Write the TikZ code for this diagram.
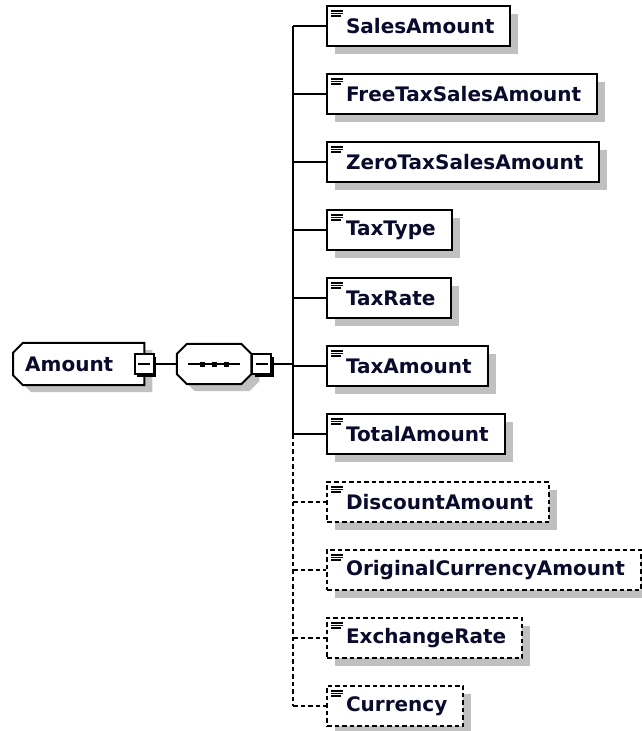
\documentclass[tikz,border=0pt]{standalone}
\usepackage{fontspec}
\newfontfamily\xsdfont{DejaVu Sans}
\usepackage{tikz}
\usetikzlibrary{shadows,positioning,calc,backgrounds}

\definecolor{elemtext}{RGB}{10,10,45}
\definecolor{shadowgrey}{RGB}{192,192,192}

\tikzset{
  boxtext/.style={font=\xsdfont\bfseries\fontsize{20}{23}\selectfont, text=elemtext},
  elem/.style={boxtext, draw, fill=white, line width=2pt, anchor=west,
    minimum height=40pt, inner xsep=16pt, execute at begin node={\hspace*{3pt}},
    general shadow={fill=shadowgrey, shadow xshift=8pt, shadow yshift=-8pt},
    path picture={\draw[solid, line width=1.2pt]
      ([shift={(4,5)}]path picture bounding box.north west) -- ++(12,0)
      ([shift={(4,7.5)}]path picture bounding box.north west) -- ++(12,0)
      ([shift={(4,10)}]path picture bounding box.north west) -- ++(10,0);}},
  optelem/.style={elem, dash pattern=on 4.5pt off 3pt},
  link/.style={line width=2pt},
  optlink/.style={link, dash pattern=on 4.5pt off 3pt},
  collapse/.style={draw, fill=white, line width=2pt, minimum width=19pt,
    minimum height=20pt, inner sep=0pt,
    general shadow={fill=black, shadow xshift=2.5pt, shadow yshift=-2.5pt},
    path picture={\draw[line width=1.5pt]
      ([xshift=-6pt]path picture bounding box.center) -- ([xshift=6pt]path picture bounding box.center);}},
  seqbox/.style={minimum width=74pt, minimum height=40pt, inner sep=0pt, anchor=west}
}

\begin{document}
\begin{tikzpicture}[x=1pt,y=-1pt]
 \useasboundingbox (0,0) rectangle (641,731);

 % root element and sequence
 \node[boxtext, anchor=west, text width=107pt, align=left, inner xsep=12pt, minimum height=42pt] (amount) at (13,364) {Amount};
 \node[collapse] (amountminus) at (amount.east) {};
 \node[seqbox, right=22pt of amountminus] (seq) {};
 \node[collapse, anchor=west] (seqminus) at (seq.east) {};

 % child elements
 \node[elem] (sales) at (326,26) {SalesAmount};
 \node[elem, below=26pt of sales.south west, anchor=north west] (freetax) {FreeTaxSalesAmount};
 \node[elem, below=26pt of freetax.south west, anchor=north west] (zerotax) {ZeroTaxSalesAmount};
 \node[elem, below=26pt of zerotax.south west, anchor=north west] (taxtype) {TaxType};
 \node[elem, below=26pt of taxtype.south west, anchor=north west] (taxrate) {TaxRate};
 \node[elem, below=26pt of taxrate.south west, anchor=north west] (taxamount) {TaxAmount};
 \node[elem, below=26pt of taxamount.south west, anchor=north west] (total) {TotalAmount};
 \node[optelem, below=26pt of total.south west, anchor=north west] (discount) {DiscountAmount};
 \node[optelem, below=26pt of discount.south west, anchor=north west] (origcur) {OriginalCurrencyAmount};
 \node[optelem, below=26pt of origcur.south west, anchor=north west] (exrate) {ExchangeRate};
 \node[optelem, below=26pt of exrate.south west, anchor=north west] (currency) {Currency};

 % outlines and shadows of root and sequence
 \begin{scope}[on background layer]
  \fill[shadowgrey, transform canvas={xshift=8pt,yshift=-7pt}]
   ($(amount.north west)+(10,0)$) -- (amount.north east) -- (amount.south east)
   -- ($(amount.south west)+(10,0)$) -- ($(amount.south west)+(0,-10)$) -- ($(amount.north west)+(0,10)$) -- cycle;
  \draw[fill=white, line width=2pt]
   ($(amount.north west)+(10,0)$) -- (amount.north east) -- (amount.south east)
   -- ($(amount.south west)+(10,0)$) -- ($(amount.south west)+(0,-10)$) -- ($(amount.north west)+(0,10)$) -- cycle;
  \fill[shadowgrey, transform canvas={xshift=8pt,yshift=-7pt}]
   ($(seq.north west)+(10,0)$) -- ($(seq.north east)+(-10,0)$) -- ($(seq.north east)+(0,10)$)
   -- ($(seq.south east)+(0,-10)$) -- ($(seq.south east)+(-10,0)$) -- ($(seq.south west)+(10,0)$)
   -- ($(seq.south west)+(0,-10)$) -- ($(seq.north west)+(0,10)$) -- cycle;
  \draw[fill=white, line width=2pt]
   ($(seq.north west)+(10,0)$) -- ($(seq.north east)+(-10,0)$) -- ($(seq.north east)+(0,10)$)
   -- ($(seq.south east)+(0,-10)$) -- ($(seq.south east)+(-10,0)$) -- ($(seq.south west)+(10,0)$)
   -- ($(seq.south west)+(0,-10)$) -- ($(seq.north west)+(0,10)$) -- cycle;
 \end{scope}

 % sequence glyph
 \draw[line width=1.6pt] ([xshift=-26pt]seq.center) -- ([xshift=26pt]seq.center);
 \foreach \dx in {-12,0,12}
  \fill ([xshift=\dx pt]seq.center) +(-2.5,-2.5) rectangle +(2.5,2.5);

 % connectors
 \coordinate (fork) at ([xshift=-33pt]sales.west |- seqminus.east);
 \draw[link] (amountminus) -- (seq);
 \draw[link] (seqminus) -- (fork);
 \draw[link] (fork |- sales.west) -- (fork |- total.west);
 \draw[optlink] (fork |- total.west) -- (fork |- currency.west);
 \draw[link] (fork |- sales.west) -- (sales);
 \draw[link] (fork |- freetax.west) -- (freetax);
 \draw[link] (fork |- zerotax.west) -- (zerotax);
 \draw[link] (fork |- taxtype.west) -- (taxtype);
 \draw[link] (fork |- taxrate.west) -- (taxrate);
 \draw[link] (fork |- taxamount.west) -- (taxamount);
 \draw[link] (fork |- total.west) -- (total);
 \draw[optlink] (fork |- discount.west) -- (discount);
 \draw[optlink] (fork |- origcur.west) -- (origcur);
 \draw[optlink] (fork |- exrate.west) -- (exrate);
 \draw[optlink] (fork |- currency.west) -- (currency);
\end{tikzpicture}
\end{document}
